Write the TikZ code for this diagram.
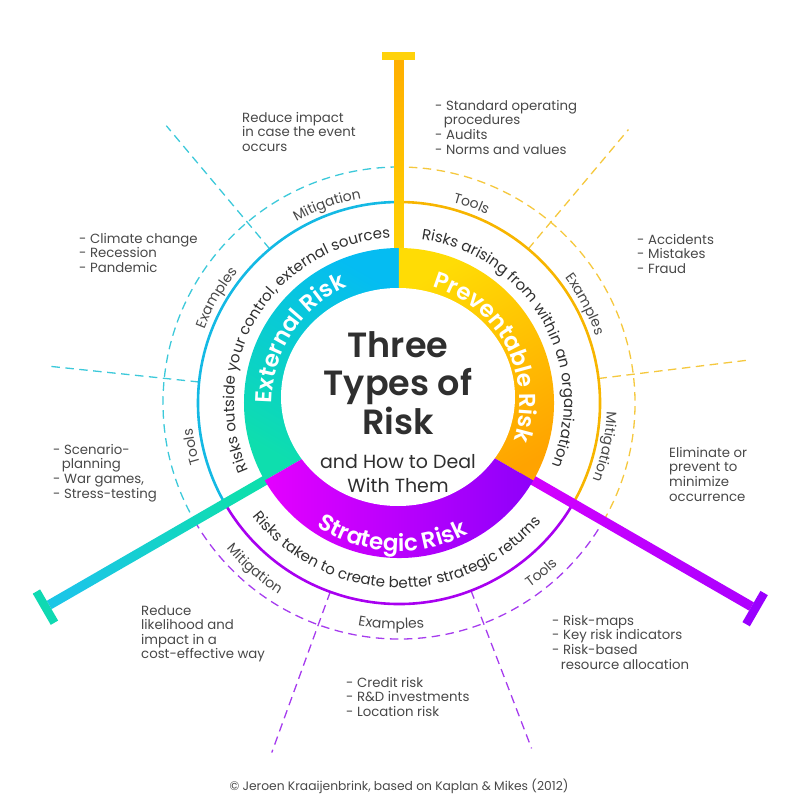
\documentclass[tikz,border=0pt]{standalone}
\usepackage{fontspec}
\setmainfont{Poppins}[BoldFont={Poppins SemiBold}]
\usetikzlibrary{decorations.text}

% Colours
\definecolor{extgreen}{HTML}{0EDEAE}
\definecolor{extblue}{HTML}{05BCF2}
\definecolor{extline}{HTML}{14B9E4}
\definecolor{extdash}{HTML}{3CC9DA}
\definecolor{extbar}{HTML}{1BC6E6}
\definecolor{extcap}{HTML}{0FD9B2}
\definecolor{prevyellow}{HTML}{FFDC05}
\definecolor{prevorange}{HTML}{FFA300}
\definecolor{prevline}{HTML}{F7B500}
\definecolor{prevdash}{HTML}{F5C83E}
\definecolor{prevbar}{HTML}{FFAE00}
\definecolor{prevcap}{HTML}{FFD20A}
\definecolor{stratpink}{HTML}{E400FF}
\definecolor{stratviolet}{HTML}{8E00FA}
\definecolor{stratline}{HTML}{A800F0}
\definecolor{stratdash}{HTML}{A63CEE}
\definecolor{stratbar}{HTML}{D000FF}
\definecolor{stratcap}{HTML}{9A00FF}
\definecolor{txt}{HTML}{484848}
\definecolor{dark}{HTML}{2F2F2F}

\newcommand{\ringfont}{\fontsize{23}{23}\selectfont\bfseries\color{white}}
\newcommand{\descfont}{\fontsize{15}{15}\selectfont\color{dark}}
\newcommand{\labfont}{\fontsize{14}{14}\selectfont\color{txt}}

% text on an arc, clockwise (letters point outwards)
\newcommand{\cwarc}[4]{%
  \path[decorate, decoration={text along path, text align=center,
      text={|#3|#4}}]
    (#1+75:#2) arc[start angle=#1+75, end angle=#1-75, radius=#2];}
% text on an arc, counter clockwise (letters point inwards)
\newcommand{\ccwarc}[4]{%
  \path[decorate, decoration={text along path, text align=center,
      text={|#3|#4}}]
    (#1-75:#2) arc[start angle=#1-75, end angle=#1+75, radius=#2];}

\tikzset{
  spoke/.style={line width=1.3pt, dash pattern=on 8.5pt off 5.5pt},
  thinring/.style={line width=2.6pt},
  body/.style={anchor=north west, inner sep=0pt, align=left, text=txt,
    font=\fontsize{13.3}{14.6}\selectfont}
}

\begin{document}
\begin{tikzpicture}[x=1pt, y=1pt]
  \useasboundingbox (-399,-404) rectangle (401,403);

  % Spokes
  \foreach \a/\r/\c in {130/362/extdash, 174/354/extdash, 50/357/prevdash,
                         7/351/prevdash, 250/372/stratdash, 291/370/stratdash}
    \draw[spoke, \c] (\a:201pt) -- (\a:\r);

  % Dashed ring
  \draw[spoke, extdash] (90:236pt) arc[start angle=90, end angle=210, radius=236pt];
  \draw[spoke, prevdash] (-30:236pt) arc[start angle=-30, end angle=90, radius=236pt];
  \draw[spoke, stratdash] (210:236pt) arc[start angle=210, end angle=330, radius=236pt];

  % Thin ring
  \draw[thinring, extline] (90:201pt) arc[start angle=90, end angle=210, radius=201pt];
  \draw[thinring, prevline] (-30:201pt) arc[start angle=-30, end angle=90, radius=201pt];
  \draw[thinring, stratline] (210:201pt) arc[start angle=210, end angle=330, radius=201pt];

  % Bars
  \shade[top color=prevbar, bottom color=prevyellow!80!prevbar] (-4.5,150) rectangle (4.5,347);
  \fill[prevcap] (-17,342.5) rectangle (16,351);
  \begin{scope}[rotate=210]
    \shade[top color=extbar, bottom color=extgreen, shading angle=120] (150,-4.8) rectangle (404,4.8);
    \fill[extcap] (404,-18) rectangle (412.5,18);
  \end{scope}
  \begin{scope}[rotate=330]
    \shade[top color=stratcap!60!stratbar, bottom color=stratbar, shading angle=240] (140,-4.8) rectangle (407,4.8);
    \fill[stratcap] (407,-18) rectangle (415.5,18);
  \end{scope}

  % Coloured ring
  \shade[top color=extblue, bottom color=extgreen, shading angle=-30]
    (0,0) -- (90:155pt) arc[start angle=90, end angle=210, radius=155pt] -- cycle;
  \shade[top color=prevyellow, bottom color=prevorange, shading angle=30]
    (0,0) -- (-30:155pt) arc[start angle=-30, end angle=90, radius=155pt] -- cycle;
  \shade[left color=stratpink, right color=stratviolet]
    (0,0) -- (210:155pt) arc[start angle=210, end angle=330, radius=155pt] -- cycle;
  \fill[white] (-1,6) ellipse[x radius=117pt, y radius=109pt];

  % Ring names
  \cwarc{147}{127pt}{\ringfont}{External Risk}
  \cwarc{28}{121pt}{\ringfont}{Preventable Risk}
  \ccwarc{267}{148pt}{\ringfont}{Strategic Risk}

  % Descriptions
  \cwarc{148.5}{165pt}{\descfont}{Risks outside your control, external sources}
  \cwarc{30}{165pt}{\descfont}{Risks arising from within an organization}
  \ccwarc{269}{185pt}{\descfont}{Risks taken to create better strategic returns}

  % Labels
  \cwarc{110}{208pt}{\labfont}{Mitigation}
  \cwarc{150}{208pt}{\labfont}{Examples}
  \cwarc{192}{208pt}{\labfont}{Tools}
  \cwarc{70}{208pt}{\labfont}{Tools}
  \cwarc{28}{208pt}{\labfont}{Examples}
  \cwarc{-12}{208pt}{\labfont}{Mitigation}
  \ccwarc{229}{226pt}{\labfont}{Mitigation}
  \ccwarc{268}{226pt}{\labfont}{Examples}
  \ccwarc{310}{226pt}{\labfont}{Tools}

  % Title
  \node[align=center, anchor=north, inner sep=0pt, text=dark,
    font=\fontsize{35}{38.5}\selectfont\bfseries] (title) at (-1,72)
    {Three\\Types of\\Risk};
  \node[align=center, anchor=north, inner sep=0pt, text=dark,
    font=\fontsize{19}{24}\selectfont] (subtitle) at (-1,-51)
    {and How to Deal\\With Them};

  % Notes
  \node[body] (extmit) at (-157,291) {Reduce impact\\in case the event\\occurs};
  \node[body] (exteg) at (-320,170) {- Climate change\\- Recession\\- Pandemic};
  \node[body] (exttools) at (-346,-41)
    {- Scenario-\\\hspace*{0.65em}planning\\- War games,\\- Stress-testing};
  \node[body] (stratmit) at (-258,-202)
    {Reduce\\likelihood and\\impact in a\\cost-effective way};
  \node[body] (strateg) at (-53,-274)
    {- Credit risk\\- R\&D investments\\- Location risk};
  \node[body] (strattools) at (153,-212)
    {- Risk-maps\\- Key risk indicators\\- Risk-based\\\hspace*{0.65em}resource allocation};
  \node[body] (prevmit) at (270,-44)
    {Eliminate or\\prevent to\\minimize\\occurrence};
  \node[body] (preveg) at (238,169) {- Accidents\\- Mistakes\\- Fraud};
  \node[body] (prevtools) at (36,303)
    {- Standard operating\\\hspace*{0.65em}procedures\\- Audits\\- Norms and values};

  % Credit
  \node[anchor=base, inner sep=0pt, text=txt, font=\fontsize{12.3}{14}\selectfont]
    (credit) at (0,-387) {© Jeroen Kraaijenbrink, based on Kaplan \& Mikes (2012)};
\end{tikzpicture}
\end{document}
